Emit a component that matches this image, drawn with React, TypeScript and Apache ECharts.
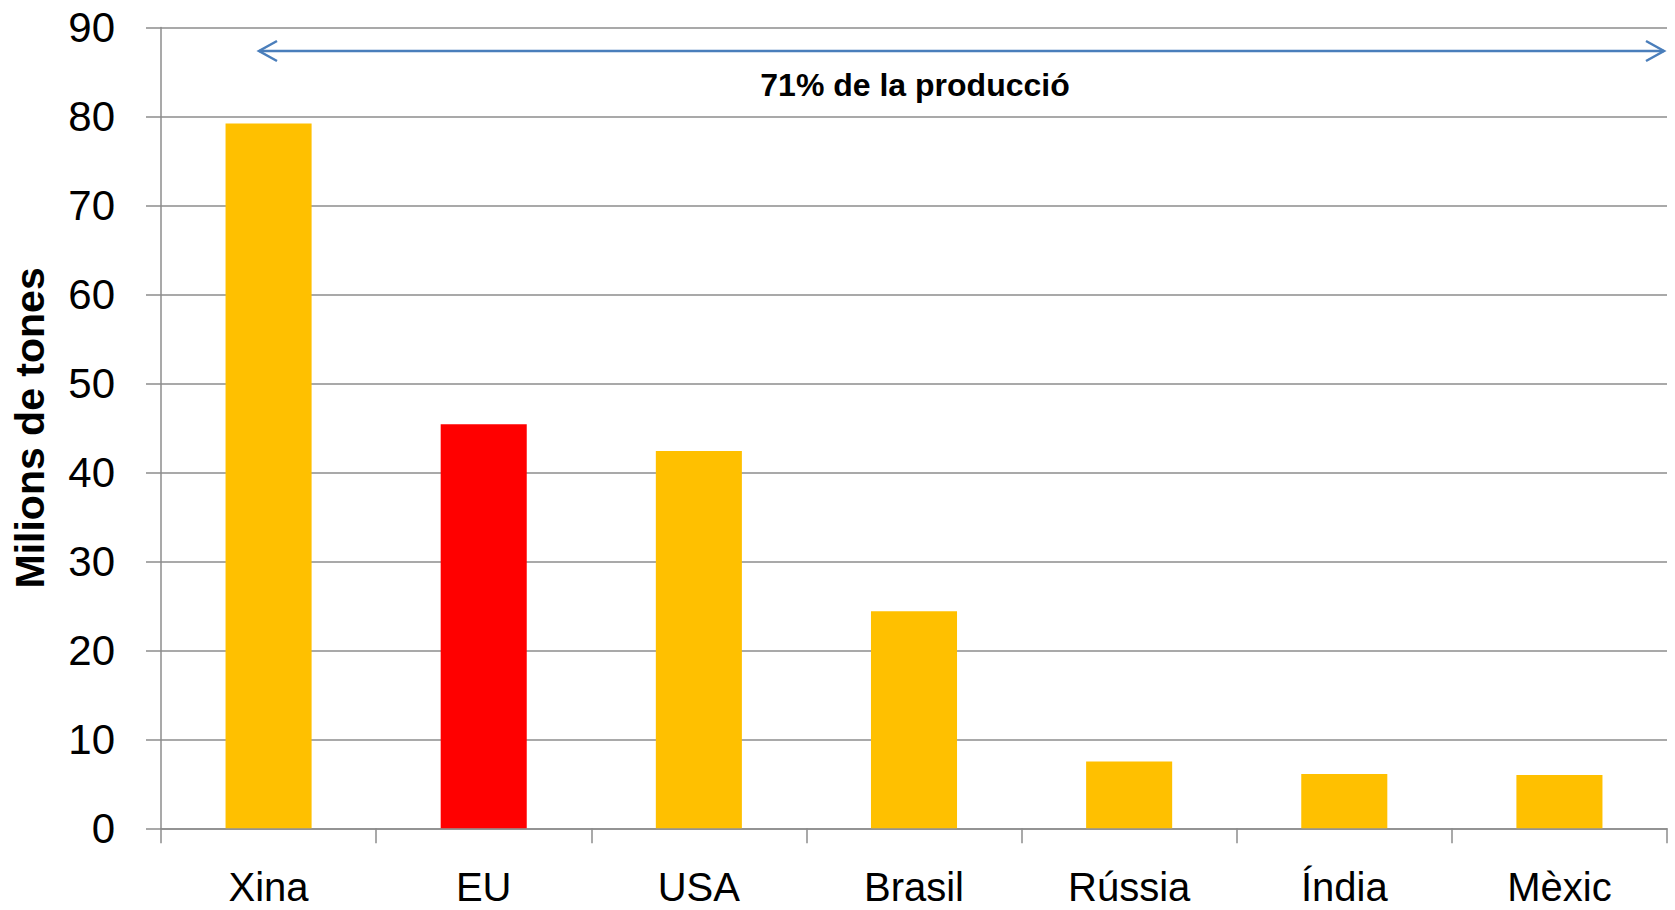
import React, { useEffect, useRef } from "react";
import * as echarts from "echarts";

const categories = ["Xina", "EU", "USA", "Brasil", "Rússia", "Índia", "Mèxic"];
const values = [79.2, 45.4, 42.4, 24.4, 7.5, 6.1, 6.0];
const barColors = ["#FFC000", "#FF0000", "#FFC000", "#FFC000", "#FFC000", "#FFC000", "#FFC000"];
const yTicks = { min: 0, max: 90, interval: 10 };
const yTitle = "Milions de tones";
const annotation = "71% de la producció";

const FONT = "'Liberation Sans', Arial, sans-serif";
const GRID_COLOR = "#8c8c8c";
const ARROW_COLOR = "#4a7ebb";

export default function App() {
  const ref = useRef<HTMLDivElement>(null);
  useEffect(() => {
    document.body.style.margin = "0";
    const chart = echarts.init(ref.current!, undefined, { renderer: "svg" });
    const ay = 51;
    const ax1 = 259;
    const ax2 = 1664;
    chart.setOption({
      animation: false,
      backgroundColor: "#ffffff",
      grid: { left: 161, top: 27.5, right: 8, bottom: 81.7, containLabel: false },
      xAxis: {
        type: "category",
        data: categories,
        boundaryGap: true,
        axisLine: { show: true, lineStyle: { color: GRID_COLOR, width: 1.5 } },
        axisTick: { show: true, inside: false, length: 15, alignWithLabel: false, lineStyle: { color: GRID_COLOR, width: 1.5 } },
        axisLabel: { color: "#000", fontFamily: FONT, fontSize: 40, lineHeight: 40, margin: 39, interval: 0 },
        splitLine: { show: false },
      },
      yAxis: {
        type: "value",
        min: yTicks.min,
        max: yTicks.max,
        interval: yTicks.interval,
        name: yTitle,
        nameLocation: "middle",
        nameGap: 111,
        nameTextStyle: { color: "#000", fontFamily: FONT, fontSize: 41, fontWeight: "bold" },
        axisLine: { show: true, lineStyle: { color: GRID_COLOR, width: 1.5 } },
        axisTick: { show: true, inside: false, length: 15, lineStyle: { color: GRID_COLOR, width: 1.5 } },
        axisLabel: { color: "#000", fontFamily: FONT, fontSize: 42, margin: 46 },
        splitLine: { show: true, lineStyle: { color: GRID_COLOR, width: 1.5 } },
      },
      series: [
        {
          type: "bar",
          data: values.map((v, i) => ({ value: v, itemStyle: { color: barColors[i] } })),
          barWidth: "40%",
        },
      ],
      graphic: [
        {
          type: "group",
          silent: true,
          children: [
            { type: "line", shape: { x1: ax1, y1: ay, x2: ax2, y2: ay }, style: { stroke: ARROW_COLOR, lineWidth: 2.5 } },
            { type: "polyline", shape: { points: [[ax1 + 18, ay - 10], [ax1, ay], [ax1 + 18, ay + 10]] }, style: { stroke: ARROW_COLOR, lineWidth: 2.5, fill: null } },
            { type: "polyline", shape: { points: [[ax2 - 18, ay - 10], [ax2, ay], [ax2 - 18, ay + 10]] }, style: { stroke: ARROW_COLOR, lineWidth: 2.5, fill: null } },
          ],
        },
        {
          type: "text",
          x: 915,
          y: 85,
          style: { text: annotation, fill: "#000", font: `bold 32px ${FONT}`, align: "center", verticalAlign: "middle" },
        },
      ],
    });
    return () => chart.dispose();
  }, []);
  return <div ref={ref} style={{ width: 1675, height: 910 }} />;
}
